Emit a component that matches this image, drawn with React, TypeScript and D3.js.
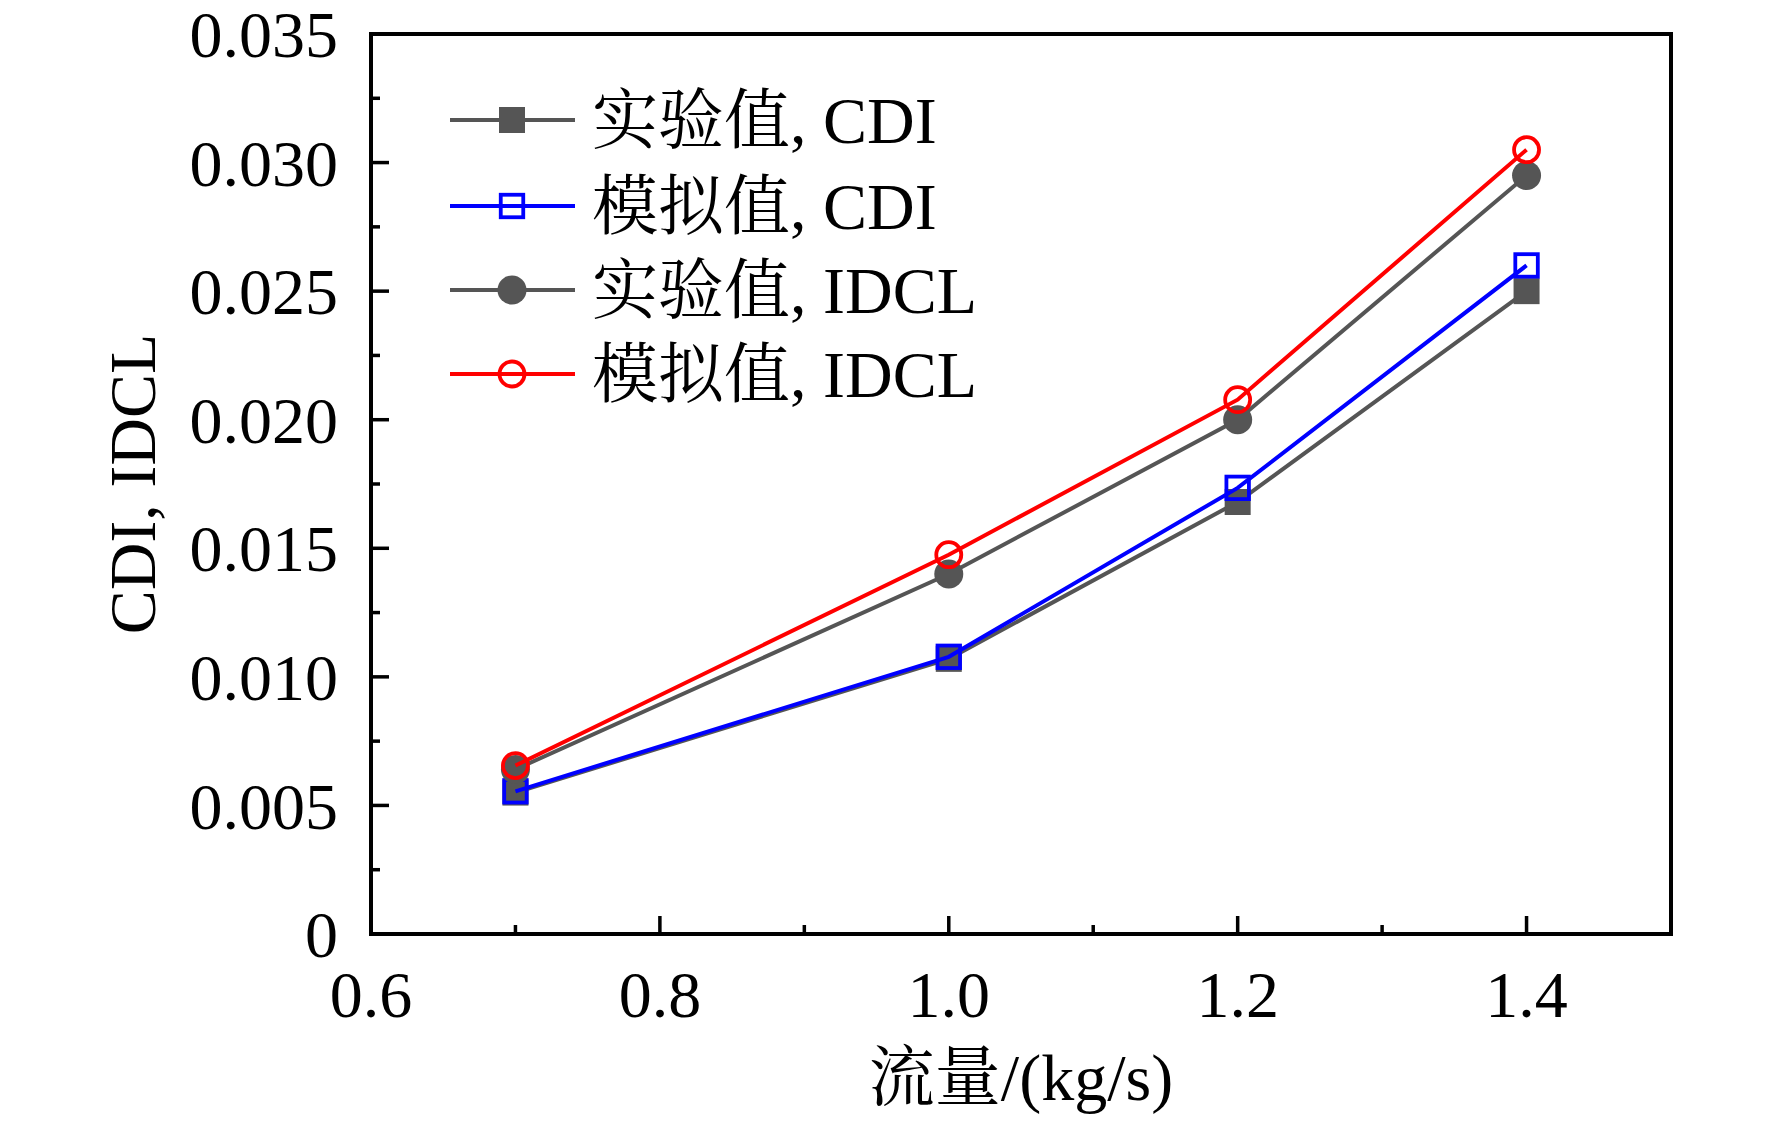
import React, { useEffect, useRef } from 'react';
import * as d3 from 'd3';

// flow rate, kg/s
const flowRates = [0.7, 1.0, 1.2, 1.4];

const cdiExperiment = [0.0055, 0.0107, 0.0168, 0.025];
const cdiSimulation = [0.00555, 0.01078, 0.01735, 0.026];
const idclExperiment = [0.0064, 0.014, 0.02, 0.0295];
const idclSimulation = [0.00655, 0.01475, 0.02078, 0.0305];

const seriesNames = ['实验值, CDI', '模拟值, CDI', '实验值, IDCL', '模拟值, IDCL'];

const xTicks = [0.6, 0.8, 1.0, 1.2, 1.4];
const xMinorTicks = [0.7, 0.9, 1.1, 1.3];
const yTicks = [0, 0.005, 0.01, 0.015, 0.02, 0.025, 0.03, 0.035];
const yMinorTicks = [0.0025, 0.0075, 0.0125, 0.0175, 0.0225, 0.0275, 0.0325];

const xTitle = '流量/(kg/s)';
const yTitle = 'CDI, IDCL';

const FONT = '"Times New Roman", "Liberation Serif", "Noto Serif CJK SC", "Noto Sans CJK SC", serif';
const GRAY = '#555555';

const App: React.FC = () => {
  const svgRef = useRef<SVGSVGElement>(null);

  useEffect(() => {
    if (!svgRef.current) return;

    const width = 1772;
    const height = 1125;
    const margin = { left: 371, right: 101, top: 34, bottom: 191 };

    const svg = d3.select(svgRef.current);
    svg.selectAll('*').remove();
    svg.attr('width', width).attr('height', height);

    const x = d3.scaleLinear().domain([0.6, 1.5]).range([margin.left, width - margin.right]);
    const y = d3.scaleLinear().domain([0, 0.035]).range([height - margin.bottom, margin.top]);

    const series = [
      { name: seriesNames[0], values: cdiExperiment, color: GRAY, shape: 'square', filled: true },
      { name: seriesNames[1], values: cdiSimulation, color: '#0000ff', shape: 'square', filled: false },
      { name: seriesNames[2], values: idclExperiment, color: GRAY, shape: 'circle', filled: true },
      { name: seriesNames[3], values: idclSimulation, color: '#ff0000', shape: 'circle', filled: false },
    ];

    const drawMarker = (g: d3.Selection<SVGGElement, unknown, null, undefined>, s: typeof series[0], cx: number, cy: number) => {
      if (s.shape === 'square') {
        const side = s.filled ? 26 : 22.5;
        g.append('rect')
          .attr('x', cx - side / 2)
          .attr('y', cy - side / 2)
          .attr('width', side)
          .attr('height', side)
          .attr('fill', s.filled ? s.color : 'none')
          .attr('stroke', s.filled ? 'none' : s.color)
          .attr('stroke-width', 3.8);
      } else {
        g.append('circle')
          .attr('cx', cx)
          .attr('cy', cy)
          .attr('r', s.filled ? 14.5 : 12.5)
          .attr('fill', s.filled ? s.color : 'none')
          .attr('stroke', s.filled ? 'none' : s.color)
          .attr('stroke-width', 3.8);
      }
    };

    // data lines + markers
    const line = d3.line<number>()
      .x((_, i) => x(flowRates[i]))
      .y(d => y(d));

    series.forEach(s => {
      const g = svg.append('g');
      g.append('path')
        .attr('d', line(s.values) || '')
        .attr('fill', 'none')
        .attr('stroke', s.color)
        .attr('stroke-width', 4);
      s.values.forEach((v, i) => drawMarker(g, s, x(flowRates[i]), y(v)));
    });

    // ticks (inward, left and bottom only)
    const axes = svg.append('g').attr('stroke', '#000').attr('stroke-width', 3.5);
    xTicks.forEach(t => {
      axes.append('line').attr('x1', x(t)).attr('x2', x(t)).attr('y1', y(0)).attr('y2', y(0) - 18);
    });
    xMinorTicks.forEach(t => {
      axes.append('line').attr('x1', x(t)).attr('x2', x(t)).attr('y1', y(0)).attr('y2', y(0) - 9);
    });
    yTicks.forEach(t => {
      axes.append('line').attr('x1', x(0.6)).attr('x2', x(0.6) + 18).attr('y1', y(t)).attr('y2', y(t));
    });
    yMinorTicks.forEach(t => {
      axes.append('line').attr('x1', x(0.6)).attr('x2', x(0.6) + 9).attr('y1', y(t)).attr('y2', y(t));
    });

    // frame
    svg.append('rect')
      .attr('x', x(0.6))
      .attr('y', y(0.035))
      .attr('width', x(1.5) - x(0.6))
      .attr('height', y(0) - y(0.035))
      .attr('fill', 'none')
      .attr('stroke', '#000')
      .attr('stroke-width', 4);

    // tick labels
    xTicks.forEach(t => {
      svg.append('text')
        .attr('x', x(t))
        .attr('y', y(0) + 83)
        .attr('text-anchor', 'middle')
        .attr('font-family', FONT)
        .attr('font-size', 66)
        .text(d3.format('.1f')(t));
    });
    yTicks.forEach(t => {
      svg.append('text')
        .attr('x', x(0.6) - 33)
        .attr('y', y(t))
        .attr('dy', '0.35em')
        .attr('text-anchor', 'end')
        .attr('font-family', FONT)
        .attr('font-size', 66)
        .text(t === 0 ? '0' : d3.format('.3f')(t));
    });

    // axis titles
    svg.append('text')
      .attr('x', (x(0.6) + x(1.5)) / 2)
      .attr('y', 1100)
      .attr('text-anchor', 'middle')
      .attr('font-family', FONT)
      .attr('font-size', 66)
      .text(xTitle);

    svg.append('text')
      .attr('transform', `translate(155, ${(y(0) + y(0.035)) / 2}) rotate(-90)`)
      .attr('text-anchor', 'middle')
      .attr('font-family', FONT)
      .attr('font-size', 66)
      .text(yTitle);

    // legend
    const legend = svg.append('g');
    const rowY = [120, 206, 290, 374];
    series.forEach((s, i) => {
      const g = legend.append('g');
      g.append('line')
        .attr('x1', 450)
        .attr('x2', 575)
        .attr('y1', rowY[i])
        .attr('y2', rowY[i])
        .attr('stroke', s.color)
        .attr('stroke-width', 4);
      drawMarker(g, s, 512, rowY[i]);
      g.append('text')
        .attr('x', 592)
        .attr('y', rowY[i])
        .attr('dy', '0.35em')
        .attr('font-family', FONT)
        .attr('font-size', 66)
        .text(s.name);
    });
  }, []);

  return (
    <div style={{ position: 'absolute', left: 0, top: 0, background: '#fff' }}>
      <svg ref={svgRef} style={{ display: 'block' }} />
    </div>
  );
};

export default App;
